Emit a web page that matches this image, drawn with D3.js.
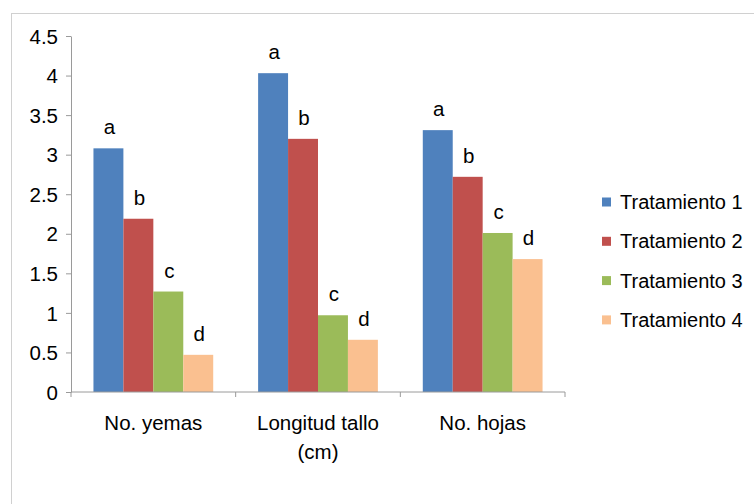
<!DOCTYPE html>
<html>
<head>
<meta charset="utf-8">
<script src="https://cdn.jsdelivr.net/npm/d3@7"></script>
<style>
  body { margin: 0; background: #fff; }
  text { font-family: "Liberation Sans", Arial, sans-serif; fill: #000; }
</style>
</head>
<body>
<div id="chart"></div>
<script>
// data
const categories = ["No. yemas", "Longitud tallo (cm)", "No. hojas"];
const series = ["Tratamiento 1", "Tratamiento 2", "Tratamiento 3", "Tratamiento 4"];
const t1 = [3.08, 4.03, 3.31];
const t2 = [2.19, 3.20, 2.72];
const t3 = [1.27, 0.97, 2.01];
const t4 = [0.47, 0.66, 1.68];
const letters = ["a", "b", "c", "d"];
const yTicks = [0, 0.5, 1, 1.5, 2, 2.5, 3, 3.5, 4, 4.5];
const colors = ["#4F81BD", "#C0504D", "#9BBB59", "#FAC090"];

const width = 754, height = 504;
const plot = { left: 71, right: 565, top: 36, bottom: 392 };

var svg = d3.select("#chart").append("svg")
    .attr("width", width)
    .attr("height", height);

// outer frame
svg.append("rect")
    .attr("x", 11.5).attr("y", 13.5)
    .attr("width", 760).attr("height", 520)
    .attr("fill", "none")
    .attr("stroke", "#d0d0d0");

var y = d3.scaleLinear().domain([0, 4.5]).range([plot.bottom, plot.top]);
var x0 = d3.scaleBand().domain(categories).range([plot.left, plot.right]);
var x1 = d3.scaleBand().domain(series).range([0, x0.bandwidth()]).paddingOuter(0.75);

const values = [t1, t2, t3, t4];
var rows = categories.map((c, i) => ({
    cat: c,
    vals: series.map((s, j) => ({ s: s, j: j, v: values[j][i] }))
}));

// y axis
var yAxis = svg.append("g")
    .attr("transform", `translate(${plot.left},0)`)
    .call(d3.axisLeft(y).tickValues(yTicks).tickSize(5).tickSizeOuter(0).tickFormat(d3.format("")));
yAxis.select(".domain").attr("stroke", "#9a9a9a");
yAxis.selectAll(".tick line").attr("stroke", "#9a9a9a");
yAxis.selectAll(".tick text").attr("x", -13).style("font-size", "20.5px").attr("dy", "0.35em");

// bars
var groups = svg.selectAll(".grp")
    .data(rows)
    .enter().append("g")
    .attr("class", "grp")
    .attr("transform", d => `translate(${x0(d.cat)},0)`);

groups.selectAll("rect")
    .data(d => d.vals)
    .enter().append("rect")
    .attr("x", d => x1(d.s))
    .attr("y", d => y(d.v))
    .attr("width", x1.bandwidth())
    .attr("height", d => y(0) - y(d.v))
    .attr("fill", d => colors[d.j]);

groups.selectAll(".lbl")
    .data(d => d.vals)
    .enter().append("text")
    .attr("class", "lbl")
    .attr("x", d => x1(d.s) + x1.bandwidth() / 2 + 1)
    .attr("y", d => y(d.v) - 14)
    .attr("text-anchor", "middle")
    .style("font-size", "20.5px")
    .text(d => letters[d.j]);

// x axis
var xAxisG = svg.append("g").attr("transform", `translate(0,${plot.bottom})`);
xAxisG.append("line")
    .attr("x1", plot.left).attr("x2", plot.right)
    .attr("stroke", "#9a9a9a");
var bounds = categories.map(c => x0(c)).concat([plot.right]);
xAxisG.selectAll(".xt")
    .data(bounds)
    .enter().append("line")
    .attr("x1", d => d).attr("x2", d => d)
    .attr("y1", 0).attr("y2", 5)
    .attr("stroke", "#9a9a9a");

var catLabels = xAxisG.selectAll(".cl")
    .data(categories)
    .enter().append("text")
    .attr("text-anchor", "middle")
    .attr("transform", d => `translate(${x0(d) + x0.bandwidth() / 2},38)`)
    .style("font-size", "20.5px");
catLabels.each(function (d) {
    var parts = d === "Longitud tallo (cm)" ? ["Longitud tallo", "(cm)"] : [d];
    d3.select(this).selectAll("tspan")
        .data(parts)
        .enter().append("tspan")
        .attr("x", 0)
        .attr("dy", (p, i) => i === 0 ? 0 : 29)
        .text(p => p);
});

// legend
var legend = svg.selectAll(".leg")
    .data(series)
    .enter().append("g")
    .attr("transform", (d, i) => `translate(602,${202 + i * 39.3})`);
legend.append("rect")
    .attr("x", 0).attr("y", -4.5)
    .attr("width", 9).attr("height", 9)
    .attr("fill", (d, i) => colors[i]);
legend.append("text")
    .attr("x", 18).attr("dy", "0.35em")
    .style("font-size", "20px")
    .text(d => d);
</script>
</body>
</html>
